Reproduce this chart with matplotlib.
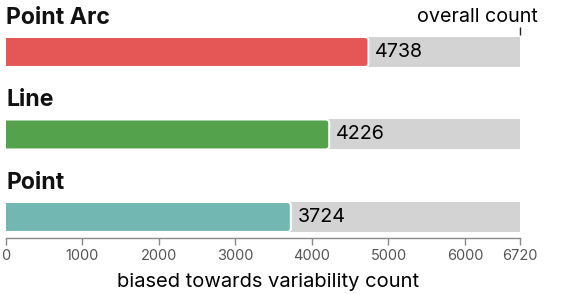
import matplotlib

matplotlib.use("Agg")
import matplotlib.pyplot as plt  # noqa: E402
from matplotlib.patches import FancyBboxPatch  # noqa: E402

plt.rcParams["font.family"] = ["Inter", "DejaVu Sans"]

categories = ["Point Arc", "Line", "Point"]
biased_counts = [4738, 4226, 3724]
overall_count = 6720
bar_colors = ["#e45756", "#54a24b", "#72b7b2"]
tick_values = [0, 1000, 2000, 3000, 4000, 5000, 6000, 6720]

W, H = 582, 294
fig = plt.figure(figsize=(W / 100, H / 100), dpi=100)
ax = fig.add_axes([6 / W, (H - 238) / H, 514 / W, 238 / H])

bar_h = 0.364
x_per_px = overall_count / 514
y_per_px = 1 / 82.5
# start the rounded box left of zero so the axes clip gives a square left end
lead = 8 * x_per_px

for i, (name, val, col) in enumerate(zip(categories, biased_counts, bar_colors)):
    ax.barh(i, overall_count, height=bar_h, color="#d3d3d3", linewidth=0)
    box = FancyBboxPatch((-lead, i - bar_h / 2), val + lead, bar_h,
                         boxstyle=f"round,pad=0,rounding_size={4 * x_per_px}",
                         mutation_aspect=y_per_px / x_per_px,
                         facecolor=col, edgecolor="white", linewidth=1.5, zorder=3)
    ax.add_patch(box)
    ax.annotate(str(val), (val, i), xytext=(5, 0), textcoords="offset points",
                ha="left", va="center", fontsize=14.2, color="#000000", zorder=4)
    ax.text(0, i - 0.34, name, ha="left", va="baseline",
            fontsize=16.6, fontweight="bold", color="#111111")

# "overall count" marker above the first bar
ax.vlines(overall_count, -0.30, -0.205, color="#222222", linewidth=1, clip_on=False)
ax.annotate("overall count", (overall_count, -0.36), xytext=(13, 0),
            textcoords="offset points", ha="right", va="baseline",
            fontsize=14.2, color="#000000")

ax.set_xlim(0, overall_count)
ax.set_ylim(2.255, -0.63)
ax.set_xticks(tick_values)
ax.set_xticklabels([str(v) for v in tick_values], fontsize=10.5, color="#555555")
ax.tick_params(axis="x", length=5, width=1, color="#888888", pad=3)
ax.set_yticks([])
for s in ["top", "left", "right"]:
    ax.spines[s].set_visible(False)
ax.spines["bottom"].set_color("#888888")
ax.spines["bottom"].set_linewidth(1)
ax.set_xlabel("biased towards variability count", fontsize=14.5, color="#000000")
ax.xaxis.set_label_coords(0.51, -0.148)
ax.patch.set_alpha(0)

fig.savefig("out.png", dpi=100)
